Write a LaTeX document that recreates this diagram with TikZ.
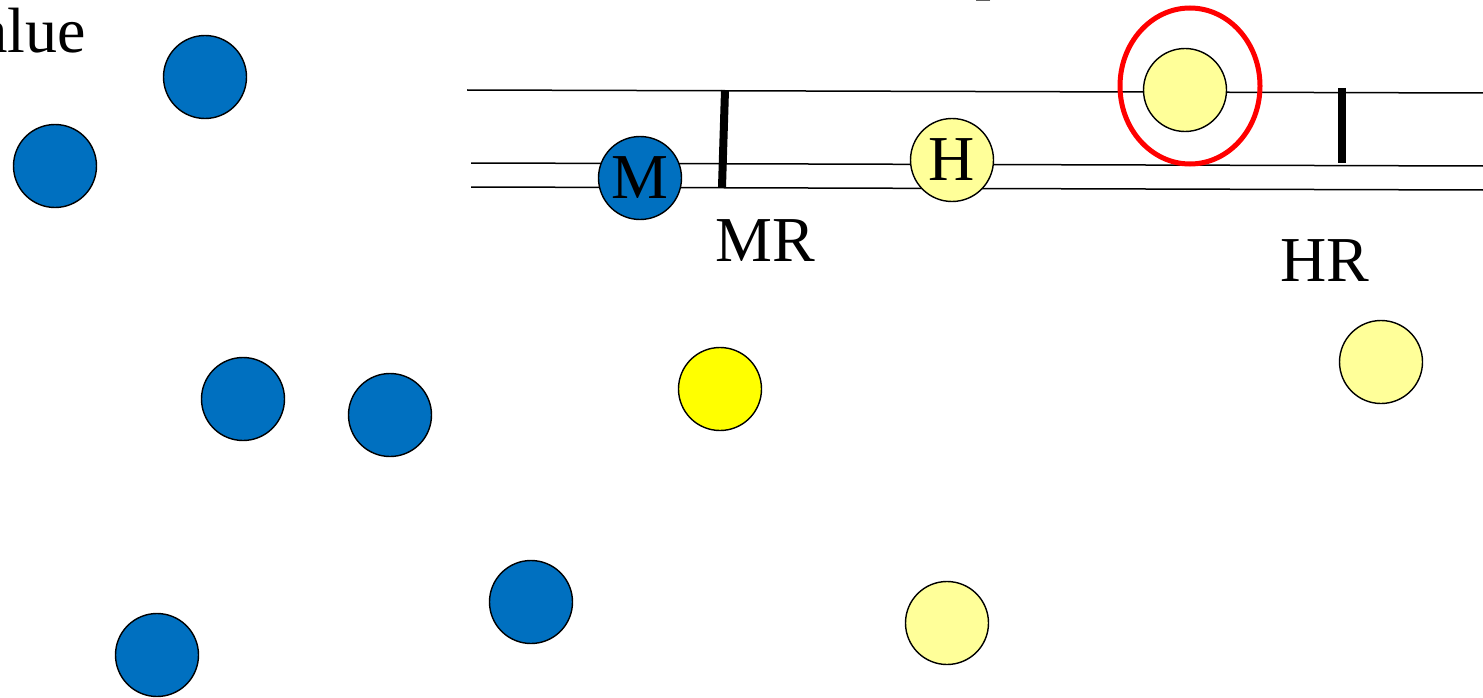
\documentclass[tikz,border=0pt]{standalone}
\usepackage{fontspec}
\setmainfont{Liberation Serif}
\definecolor{dotblue}{HTML}{0070C0}
\definecolor{dotlight}{HTML}{FFFF99}
\definecolor{dotyellow}{HTML}{FFFF00}
\tikzset{
  dot/.style={circle, draw=black, line width=1.4pt, minimum size=83pt, inner sep=0pt,
    font=\fontsize{64}{70}\selectfont},
  bluedot/.style={dot, fill=dotblue},
  lightdot/.style={dot, fill=dotlight},
  yellowdot/.style={dot, fill=dotyellow},
  thinline/.style={line width=1.5pt, black},
  barline/.style={line width=8pt, black},
  lbl/.style={font=\fontsize{64}{70}\selectfont, inner sep=0pt},
}
\begin{document}
\begin{tikzpicture}[x=1pt, y=-1pt]
\clip (0,0) rectangle (1483,698);
\fill[white] (0,0) rectangle (1483,698);
% cut-off texts
\node[lbl, anchor=base east] (val) at (86,53) {value};
\node[lbl, anchor=base west] (top) at (975,-12) {p};
% lines
\draw[thinline] (467,90) -- (1483,93);
\draw[thinline] (471,163) -- (1483,166);
\draw[thinline] (471,187) -- (1483,190);
% bars
\draw[barline] (725,90) -- (722,187);
\draw[barline] (1342,88) -- (1342,163);
% blue dots
\node[bluedot] (b1) at (205,77) {};
\node[bluedot] (b2) at (55,166) {};
\node[bluedot] (b3) at (243,399) {};
\node[bluedot] (b4) at (390,415) {};
\node[bluedot] (b5) at (531,602) {};
\node[bluedot] (b6) at (157,655) {};
\node[bluedot] (m) at (640,178) {M};
% yellow dots
\node[yellowdot] (y1) at (720,389) {};
\node[lightdot] (h) at (952,160) {H};
\node[lightdot] (t) at (1185,90) {};
\node[lightdot] (l1) at (1381,362) {};
\node[lightdot] (l2) at (947,623) {};
% red ring
\draw[red, line width=5pt] (1190,86) ellipse [x radius=70, y radius=78];
% labels
\node[lbl, anchor=base] (mr) at (765,261) {MR};
\node[lbl, anchor=base] (hr) at (1325,281) {HR};
\end{tikzpicture}
\end{document}
